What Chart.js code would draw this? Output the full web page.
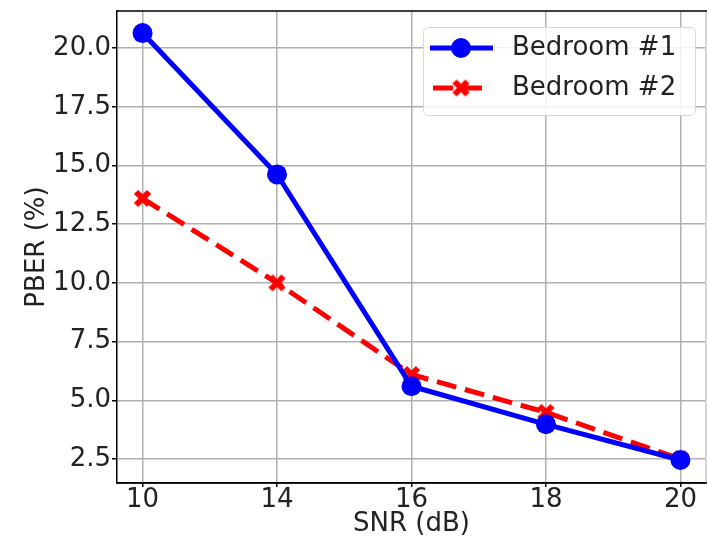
<!DOCTYPE html>
<html>
<head>
<meta charset="utf-8">
<script src="https://cdn.jsdelivr.net/npm/chart.js@4.4.1/dist/chart.umd.min.js"></script>
<style>
html, body { margin: 0; padding: 0; background: #fff; }
</style>
</head>
<body>
<canvas id="pberChart" width="707" height="541"></canvas>
<script>
// values
const snrLabels = ['10', '14', '16', '18', '20'];
const bedroom1 = [20.64, 14.62, 5.6, 3.98, 2.46];
const bedroom2 = [13.6, 10.0, 6.1, 4.49, 2.5];
const yTicks = [2.5, 5.0, 7.5, 10.0, 12.5, 15.0, 17.5, 20.0];

const FONT = 'DejaVu Sans';
const TXT = '#222';

// matplotlib style filled "X" marker
function makeX(size, w, color) {
	var c = document.createElement('canvas');
	c.width = size; c.height = size;
	var g = c.getContext('2d');
	g.strokeStyle = color;
	g.lineWidth = w;
	g.lineCap = 'butt';
	var p = w / 2;
	g.beginPath();
	g.moveTo(p, p); g.lineTo(size - p, size - p);
	g.moveTo(size - p, p); g.lineTo(p, size - p);
	g.stroke();
	return c;
}
const xMarker = makeX(19, 6, '#ff0000');

function toPts(arr) {
	return arr.map((v, i) => ({ x: i, y: v }));
}

// top spine + faint cut right edge
const framePlugin = {
	id: 'frame',
	afterDraw(chart) {
		const { ctx, chartArea } = chart;
		ctx.save();
		ctx.fillStyle = '#fff';
		ctx.fillRect(chartArea.right - 1, chartArea.top, 4, chartArea.bottom - chartArea.top);
		ctx.strokeStyle = '#c8c8c8';
		ctx.lineWidth = 1.5;
		ctx.beginPath();
		ctx.moveTo(chartArea.right, chartArea.top);
		ctx.lineTo(chartArea.right, chartArea.bottom);
		ctx.stroke();
		ctx.strokeStyle = '#000';
		ctx.beginPath();
		ctx.moveTo(chartArea.left, chartArea.top);
		ctx.lineTo(chartArea.right + 5, chartArea.top);
		ctx.moveTo(chartArea.left, chartArea.bottom);
		ctx.lineTo(chartArea.right + 5, chartArea.bottom);
		ctx.stroke();
		ctx.restore();
	}
};

// legend box in the upper right corner
const legendPlugin = {
	id: 'boxLegend',
	afterDraw(chart) {
		const ctx = chart.ctx;
		const bx = 423, by = 27, bw = 272, bh = 88, r = 5;
		ctx.save();
		ctx.fillStyle = 'rgba(255,255,255,0.85)';
		ctx.strokeStyle = '#d8d8d8';
		ctx.lineWidth = 1;
		ctx.beginPath();
		ctx.roundRect(bx + 0.5, by + 0.5, bw, bh, r);
		ctx.fill();
		ctx.stroke();

		const rows = [48, 88];
		chart.data.datasets.forEach((ds, i) => {
			const y = rows[i];
			ctx.strokeStyle = ds.borderColor;
			ctx.lineWidth = ds.borderWidth;
			ctx.setLineDash(ds.borderDash || []);
			ctx.beginPath();
			ctx.moveTo(i == 0 ? 430 : 433, y);
			ctx.lineTo(i == 0 ? 493 : 487, y);
			ctx.stroke();
			ctx.setLineDash([]);
			if (ds.pointStyle === 'circle') {
				ctx.fillStyle = ds.pointBackgroundColor;
				ctx.beginPath();
				ctx.arc(461, y, ds.pointRadius, 0, Math.PI * 2);
				ctx.fill();
			} else {
				ctx.drawImage(ds.pointStyle, 461 - ds.pointStyle.width / 2, y - ds.pointStyle.height / 2);
			}
			ctx.fillStyle = TXT;
			ctx.font = '26px "' + FONT + '"';
			ctx.textBaseline = 'middle';
			ctx.textAlign = 'left';
			ctx.fillText(ds.label, 512, y);
		});
		ctx.restore();
	}
};

var ctx = document.getElementById('pberChart').getContext('2d');
var pberChart = new Chart(ctx, {
	type: 'line',
	data: {
		datasets: [{
			label: 'Bedroom #1',
			data: toPts(bedroom1),
			borderColor: '#0000ff',
			borderWidth: 5,
			pointStyle: 'circle',
			pointRadius: 10,
			pointBorderWidth: 0,
			pointBackgroundColor: '#0000ff',
			fill: false,
			tension: 0
		}, {
			label: 'Bedroom #2',
			data: toPts(bedroom2),
			borderColor: '#ff0000',
			borderWidth: 5,
			borderDash: [20, 9],
			pointStyle: xMarker,
			pointRadius: 10,
			pointBorderWidth: 0,
			pointBackgroundColor: '#ff0000',
			fill: false,
			tension: 0
		}]
	},
	options: {
		responsive: false,
		animation: false,
		devicePixelRatio: 1,
		layout: { autoPadding: false, padding: { top: 11, right: 1, left: 0, bottom: 0 } },
		plugins: {
			legend: { display: false },
			tooltip: { enabled: false }
		},
		scales: {
			x: {
				type: 'linear',
				min: -0.19,
				max: 4.19,
				afterBuildTicks: s => { s.ticks = snrLabels.map((l, i) => ({ value: i })); },
				afterFit: s => { s.height = 58; s.paddingLeft = 0; s.paddingRight = 0; },
				ticks: {
					callback: v => snrLabels[v],
					font: { family: FONT, size: 26 },
					color: TXT,
					padding: -2,
					maxRotation: 0
				},
				grid: { color: '#b0b0b0', lineWidth: 1.5, tickLength: 4, tickColor: '#000' },
				border: { color: '#000', width: 1.5 },
				title: {
					display: true,
					text: 'SNR (dB)',
					font: { family: FONT, size: 26, lineHeight: 1.2 },
					color: TXT,
					padding: { top: 0, bottom: 1 }
				}
			},
			y: {
				min: 1.48,
				max: 21.58,
				afterBuildTicks: s => { s.ticks = yTicks.map(v => ({ value: v })); },
				afterFit: s => { s.width = 117; s.paddingTop = 0; s.paddingBottom = 0; },
				ticks: {
					callback: v => v.toFixed(1),
					font: { family: FONT, size: 26 },
					color: TXT,
					padding: 1
				},
				grid: { color: '#b0b0b0', lineWidth: 1.5, tickLength: 5, tickColor: '#000' },
				border: { color: '#000', width: 1.5 },
				title: {
					display: true,
					text: 'PBER (%)',
					font: { family: FONT, size: 26, lineHeight: 1.2 },
					color: TXT,
					padding: { top: 22, bottom: 0 }
				}
			}
		}
	},
	plugins: [framePlugin, legendPlugin]
});
</script>
</body>
</html>
